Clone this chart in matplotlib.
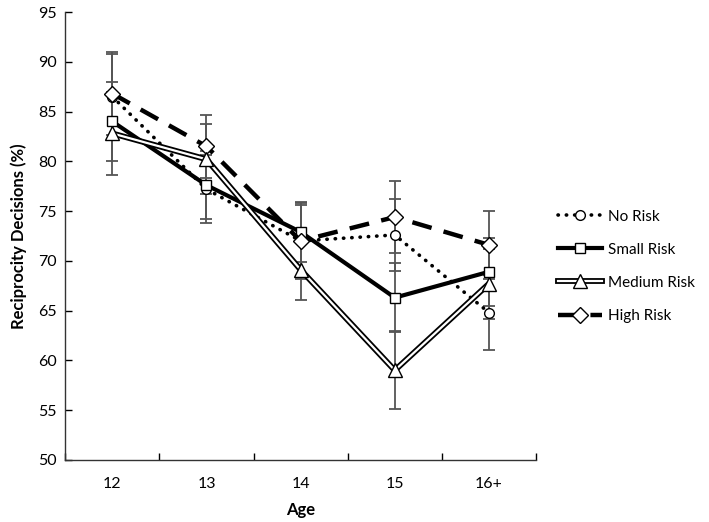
import matplotlib
matplotlib.use("Agg")
import matplotlib.pyplot as plt
import matplotlib.patheffects as pe
from matplotlib.legend_handler import HandlerTuple

plt.rcParams["font.family"] = ["Lato", "DejaVu Sans"]

ages = ["12", "13", "14", "15", "16+"]

no_risk = [86.5, 77.2, 72.0, 72.6, 64.8]
small_risk = [84.0, 77.6, 72.9, 66.3, 68.9]
medium_risk = [82.8, 80.2, 69.1, 59.0, 67.7]
high_risk = [86.8, 81.5, 72.0, 74.4, 71.6]

no_risk_err = [4.3, 3.4, 3.8, 3.6, 3.8]
small_risk_err = [4.0, 3.4, 3.0, 3.5, 3.4]
medium_risk_err = [4.2, 3.5, 3.0, 3.9, 3.5]
high_risk_err = [4.2, 3.2, 3.6, 3.6, 3.4]

x = list(range(len(ages)))

fig = plt.figure(figsize=(7.09, 5.22), dpi=100)
ax = fig.add_axes([0.092, 0.119, 0.664, 0.858])

# error bars first so the lines sit on top
err_style = dict(fmt="none", ecolor="#555555", elinewidth=1.3, capsize=4, capthick=1.3, zorder=1)
for vals, errs in [(no_risk, no_risk_err), (small_risk, small_risk_err),
                   (medium_risk, medium_risk_err), (high_risk, high_risk_err)]:
    ax.errorbar(x, vals, yerr=errs, **err_style)

mk = dict(markerfacecolor="white", markeredgecolor="black", markeredgewidth=1.0)

h_no, = ax.plot(x, no_risk, color="black", lw=2.6, linestyle=(0, (0.1, 2.2)),
                dash_capstyle="round", marker="o", markersize=7, zorder=3, **mk)
h_small, = ax.plot(x, small_risk, color="black", lw=3, marker="s", markersize=7,
                   zorder=3, **mk)

# medium risk: double line (white core with black outline)
med_line, = ax.plot(x, medium_risk, color="white", lw=1.6, zorder=3,
                    path_effects=[pe.Stroke(linewidth=4.2, foreground="black"), pe.Normal()])
med_mk, = ax.plot(x, medium_risk, linestyle="none", marker="^", markersize=10, zorder=4, **mk)

h_high, = ax.plot(x, high_risk, color="black", lw=3.2, linestyle=(0, (4.5, 2.8)),
                  marker="D", markersize=8, zorder=3, **mk)

ax.set_xlim(-0.5, 4.5)
ax.set_ylim(50, 95)
ax.set_yticks(range(50, 96, 5))
ax.set_xticks(x)
ax.set_xticklabels(ages)
ax.set_xticks([i + 0.5 for i in range(-1, 5)], minor=True)
ax.tick_params(axis="x", which="major", length=0, pad=12, labelsize=11.5)
ax.tick_params(axis="x", which="minor", direction="in", length=5, width=1)
ax.tick_params(axis="y", direction="in", length=5, width=1, labelsize=11.5, pad=6)
ax.spines["top"].set_visible(False)
ax.spines["right"].set_visible(False)
for s in ["left", "bottom"]:
    ax.spines[s].set_linewidth(1.0)
    ax.spines[s].set_color("#333333")

ax.set_xlabel("Age", fontsize=12, fontweight="bold", labelpad=8)
ax.set_ylabel("Reciprocity Decisions (%)", fontsize=12, fontweight="bold", labelpad=8)

fig.legend([h_no, h_small, (med_line, med_mk), h_high],
           ["No Risk", "Small Risk", "Medium Risk", "High Risk"],
           handler_map={tuple: HandlerTuple(ndivide=1, pad=0)},
           loc="center left", bbox_to_anchor=(0.772, 0.49), frameon=False,
           fontsize=11, handlelength=2.9, labelspacing=1.25, handletextpad=0.35,
           borderpad=0.2)

fig.savefig("out.png", dpi=100)
